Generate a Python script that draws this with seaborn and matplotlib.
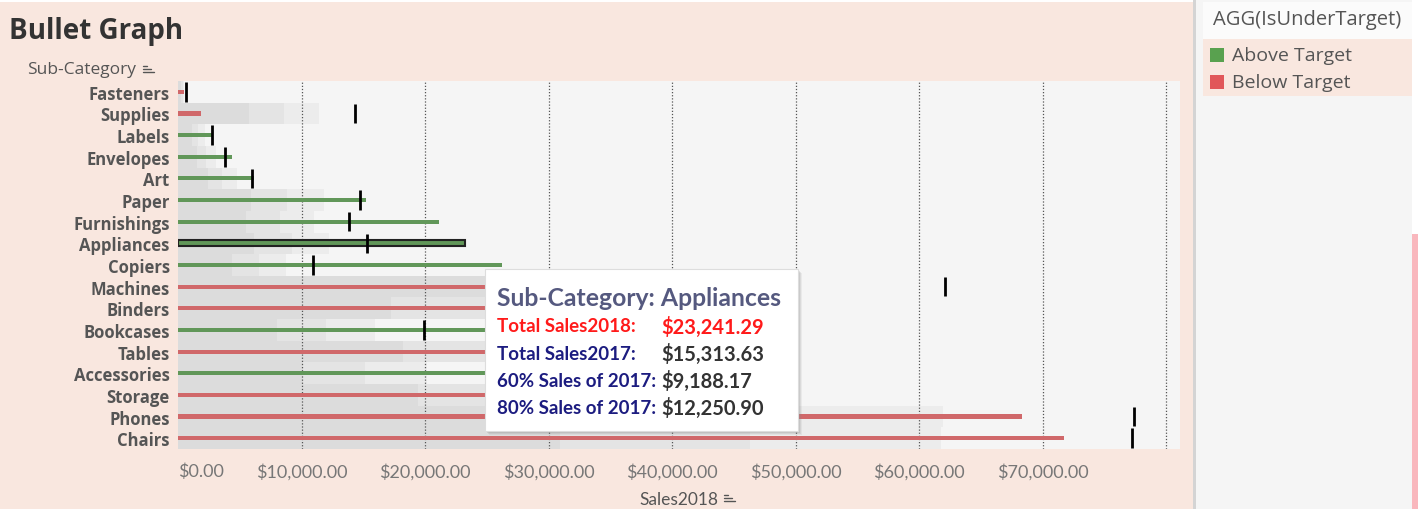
# Bullet graph of 2018 sales by sub-category against the 2017 sales target
# bars = 2018 sales, black tick = 2017 sales, grey bands = 40/60/80% of 2017

import pandas as pd
import matplotlib.pyplot as plt
import numpy as np
import seaborn as sns
from matplotlib.patches import Rectangle
from matplotlib.lines import Line2D


# data (sorted ascending by 2018 sales)

categories = ["Fasteners", "Supplies", "Labels", "Envelopes", "Art", "Paper",
              "Furnishings", "Appliances", "Copiers", "Machines", "Binders",
              "Bookcases", "Tables", "Accessories", "Storage", "Phones", "Chairs"]

sales2018 = [480, 1850, 2850, 4400, 6150, 15200, 21100, 23241.29, 26200,
             27500, 30500, 33000, 37000, 41000, 46000, 68300, 71700]

sales2017 = [650, 14300, 2750, 3800, 6000, 14750, 13800, 15313.63, 10900,
             62100, 43000, 19950, 45600, 25200, 48500, 77400, 77200]

band_levels = [0.8, 0.6, 0.4]
band_colors = ["#ececec", "#e4e4e4", "#dcdcdc"]

status_colors = {"Above Target": "#59a14f", "Below Target": "#e15759"}

tooltip_rows = [("Total Sales2018:", "$23,241.29"),
                ("Total Sales2017:", "$15,313.63"),
                ("60% Sales of 2017:", "$9,188.17"),
                ("80% Sales of 2017:", "$12,250.90")]


df = pd.DataFrame({"cat": categories, "s2018": sales2018, "s2017": sales2017})
df["status"] = np.where(df["s2018"] >= df["s2017"], "Above Target", "Below Target")
for lvl in band_levels:
    df["band" + str(lvl)] = df["s2017"] * lvl


W, H = 1418, 510
PEACH = "#f9e7df"


def fx(px):
    return px / W


def fy(py):
    return 1 - py / H


def fig_rect(x0, y0, x1, y1, color, z, **kw):
    # rectangle in pixel coords of the final picture (y from top)
    fig.patches.append(Rectangle((fx(x0), fy(y1)), fx(x1 - x0), fy(y0) - fy(y1),
                                 transform=fig.transFigure, facecolor=color,
                                 zorder=z, **kw))


sns.set_theme(style="white")
plt.rcParams["font.family"] = ["Open Sans", "DejaVu Sans"]

fig = plt.figure(figsize=(W / 100, H / 100), dpi=100)
fig.patch.set_facecolor("white")

# background panels (left sheet peach, right legend panel grey)
fig_rect(0, 3, 1193, 510, PEACH, -5, edgecolor="none")
fig_rect(1193, 0, 1196, 510, "#d4d4d4", -5, edgecolor="none")
fig_rect(1196, 0, 1412, 510, "#f5f5f5", -5, edgecolor="none")
fig_rect(1412, 235, 1418, 510, "#f9b7bd", -5, edgecolor="none")

# legend box
fig_rect(1203, 3, 1412, 40, "#fbfbfb", -4, edgecolor="none")
fig_rect(1203, 40, 1412, 97, PEACH, -4, edgecolor="none")
fig.text(fx(1213), fy(20), "AGG(IsUnderTarget)", fontsize=14.5, color="#555555",
         va="center", ha="left")
for i, (lab, col) in enumerate(status_colors.items()):
    yy = 56 + i * 27
    fig_rect(1210, yy - 7, 1224, yy + 7, col, -3, edgecolor="none")
    fig.text(fx(1232), fy(yy), lab, fontsize=14, color="#555555", va="center", ha="left")

# titles
fig.text(fx(9), fy(32), "Bullet Graph", fontsize=20, fontweight="bold",
         color="#333333", va="center", ha="left")
fig.text(fx(27), fy(70), "Sub-Category", fontsize=12.5, color="#555555",
         va="center", ha="left")


def sort_icon(x0, y0):
    # small "sorted" icon: three lines of shrinking length
    for k, ln in enumerate([4, 8, 11]):
        yy = y0 - 4 + k * 3
        fig.lines.append(Line2D([fx(x0), fx(x0 + ln)], [fy(yy), fy(yy)],
                                transform=fig.transFigure, color="#555555", lw=1))


sort_icon(143, 71)
sort_icon(724, 500)

# main bullet axes
ax = fig.add_axes([fx(178), fy(450), fx(1180 - 178), fy(82) - fy(450)])
ax.set_facecolor("#f5f5f5")

for lvl, col in zip(band_levels, band_colors):
    sns.barplot(data=df, x="band" + str(lvl), y="cat", order=categories, orient="h",
                color=col, width=1.0, errorbar=None, linewidth=0, ax=ax, zorder=1)

sns.barplot(data=df, x="s2018", y="cat", hue="status", order=categories, orient="h",
            palette=status_colors, width=0.19, dodge=False, errorbar=None,
            linewidth=0, legend=False, ax=ax, zorder=3)

# selected mark (Appliances) drawn with an outline
sel = df[df["cat"] == "Appliances"]
sns.barplot(data=sel, x="s2018", y="cat", order=categories, orient="h",
            color=status_colors["Above Target"], width=0.28, errorbar=None,
            edgecolor="#222222", linewidth=1.5, ax=ax, zorder=4)

# 2017 target ticks
ax.errorbar(df["s2017"], np.arange(len(categories)), yerr=0.45, fmt="none",
            ecolor="black", elinewidth=2, capsize=0, zorder=5)

ticks = np.arange(0, 80001, 10000)
ax.set_xticks(ticks)
ax.set_xticklabels(["${:,.2f}".format(t) if t < 80000 else "" for t in ticks],
                   fontsize=13, color="#777777", family=["Lato", "DejaVu Sans"])
ax.get_xticklabels()[0].set_horizontalalignment("left")
ax.tick_params(axis="x", length=0, pad=10)
ax.tick_params(axis="y", length=0, pad=6)
for lab in ax.get_yticklabels():
    lab.set_fontweight("bold")
    lab.set_fontsize(12)
    lab.set_color("#555555")

ax.set_xlim(0, 81100)
ax.set_ylim(len(categories) - 0.5, -0.5)
for t in ticks[1:]:
    ax.axvline(t, color="#555555", lw=0.9, ls=(0, (1, 1.5)), zorder=2)
for s in ax.spines.values():
    s.set_visible(False)

ax.set_ylabel("")
ax.set_xlabel("Sales2018", fontsize=12.5, color="#555555", labelpad=8,
              family=["Lato", "DejaVu Sans"])

# tooltip for the selected mark
for off, a in [(4, 0.10), (3, 0.15), (2, 0.2)]:
    fig_rect(485 + off, 270 + off, 798 + off, 432 + off, "#888888", 8,
             alpha=a, edgecolor="none")
fig_rect(485, 270, 798, 432, "white", 9, edgecolor="#dddddd", lw=0.8)
fig.text(fx(497), fy(298), "Sub-Category: Appliances", fontsize=17.8, fontweight="bold",
         color="#55597f", va="center", ha="left", zorder=10, family=["Lato", "DejaVu Sans"])
for i, (lab, val) in enumerate(tooltip_rows):
    yy = 327 + i * 27.3
    lc = "#ff1a1a" if i == 0 else "#1c1c80"
    vc = "#ff1a1a" if i == 0 else "#333333"
    fig.text(fx(497), fy(yy), lab, fontsize=13.5, fontweight="bold", color=lc,
             va="center", ha="left", zorder=10, family=["Lato", "DejaVu Sans"])
    fig.text(fx(661), fy(yy), val, fontsize=14.5, fontweight="bold", color=vc,
             va="center", ha="left", zorder=10, family=["Lato", "DejaVu Sans"])

plt.savefig("out.png", dpi=100, facecolor=fig.get_facecolor())
